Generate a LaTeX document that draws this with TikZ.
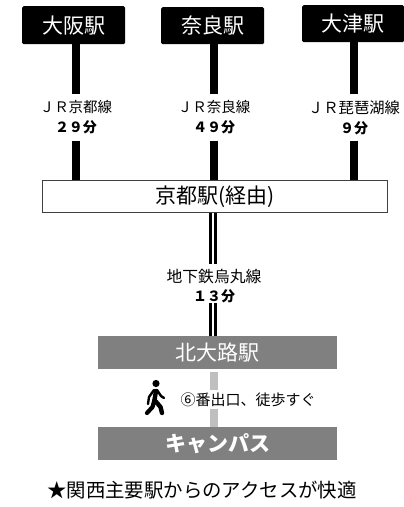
\documentclass[tikz,border=0pt]{standalone}
\usepackage{fontspec}
\setmainfont{Noto Sans CJK JP}
\definecolor{boxgray}{gray}{0.5}
\definecolor{walkgray}{gray}{0.75}
\tikzset{
  x=1pt,y=-1pt,
  origin/.style={fill=black,rounded corners=1.5pt,text=white,font=\fontsize{21}{21}\selectfont,inner sep=0pt,anchor=north west},
  transit/.style={fill=boxgray,text=white,inner sep=0pt,anchor=north west,minimum width=239pt,minimum height=33pt},
  railline/.style={line width=8pt,black},
  subwayline/.style={line width=2.7pt,black},
  walkline/.style={line width=8pt,walkgray},
  linelabel/.style={font=\fontsize{14.5}{20}\selectfont,align=center,inner sep=0pt,text=black,minimum height=46pt},
  mins/.style={font=\bfseries\fontsize{14}{20}\selectfont},
  bodypart/.style={line cap=round,line join=round},
}
\begin{document}
\begin{tikzpicture}
\useasboundingbox (0,0) rectangle (404,507);
\fill[white] (0,0) rectangle (404,507);
% origin stations
\node[origin,minimum width=103pt,minimum height=38pt] (osaka) at (22,6) {大阪駅};
\node[origin,minimum width=103pt,minimum height=37pt] (nara) at (161,7) {奈良駅};
\node[origin,minimum width=102pt,minimum height=37pt] (otsu) at (302,5) {大津駅};
% hub
\node[draw=black!75,line width=0.7pt,fill=white,inner sep=0pt,anchor=north west,minimum width=345pt,minimum height=32pt,font=\fontsize{21}{21}\selectfont] (kyoto) at (42,180) {京都駅(経由)};
% labels
\node[linelabel] (l1) at (76,117.5) {ＪＲ京都線\\{\bfseries\fontsize{14}{20}\selectfont ２９分}};
\node[linelabel] (l2) at (214,117.5) {ＪＲ奈良線\\{\bfseries\fontsize{14}{20}\selectfont ４９分}};
\node[linelabel,font=\fontsize{15.3}{20}\selectfont] (l3) at (354,117.5) {ＪＲ琵琶湖線\\{\bfseries\fontsize{14}{20}\selectfont ９分}};
\node[linelabel,minimum height=44pt,font=\fontsize{15.8}{19}\selectfont] (l4) at (214,286) {地下鉄烏丸線\\{\bfseries\fontsize{14}{19}\selectfont １３分}};
% transit boxes
\node[transit,font=\fontsize{21}{21}\selectfont] (kitaoji) at (98,336) {北大路駅};
\node[transit,font=\fontsize{21}{21}\bfseries\selectfont] (campus) at (98,427) {キャンパス};
% JR lines
\draw[railline] (osaka.south -| l1) -- (l1.north);
\draw[railline] (l1.south) -- (l1.south |- kyoto.north);
\draw[railline] (nara.south -| l2) -- (l2.north);
\draw[railline] (l2.south) -- (l2.south |- kyoto.north);
\draw[railline] (otsu.south -| l3) -- (l3.north);
\draw[railline] (l3.south) -- (l3.south |- kyoto.north);
% subway double line
\foreach \d in {-3.4,1.6} {
  \draw[subwayline] ([xshift=\d pt]l4.north |- kyoto.south) -- ([xshift=\d pt]l4.north);
  \draw[subwayline,shorten <=-5pt] ([xshift=\d pt]l4.south) -- ([xshift=\d pt]l4.south |- kitaoji.north);
}
% walk line
\node[inner sep=0pt,font=\fontsize{15}{15}\selectfont] (walk) at (248,400) {⑥番出口、徒歩すぐ};
\coordinate (gapa) at (214,390);
\coordinate (gapb) at (214,409);
\draw[walkline,shorten <=3pt] (gapa |- kitaoji.south) -- (gapa);
\draw[walkline] (gapb) -- (gapb |- campus.north);
% walker
\fill (156,383.5) circle (3.6);
\draw[bodypart,line width=4.4pt] (156,391) -- (154.5,400) -- (160.5,407) -- (162,413);
\draw[bodypart,line width=4.2pt] (154.5,400) -- (152.5,407) -- (147,413);
\draw[bodypart,line width=2.4pt] (154,390) -- (149,397) -- (148,404);
\draw[bodypart,line width=2.4pt] (157,390) -- (161,396) -- (164,398);
\node[inner sep=0pt,font=\fontsize{19.4}{19.4}\selectfont] (note) at (202,490) {★関西主要駅からのアクセスが快適};
\end{tikzpicture}
\end{document}
